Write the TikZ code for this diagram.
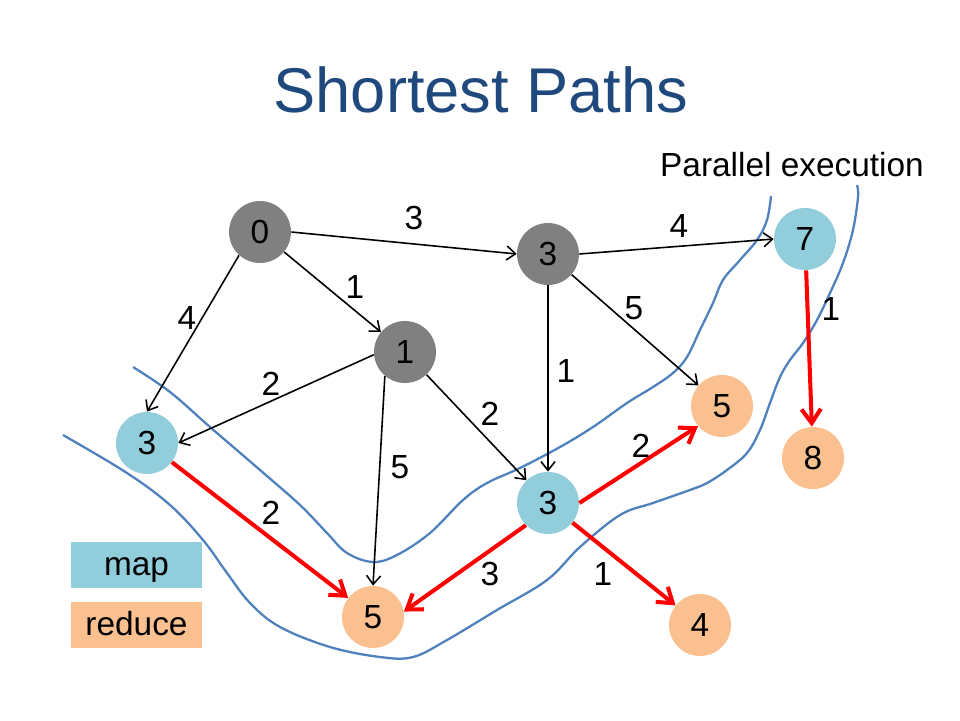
\documentclass[tikz,border=0pt]{standalone}
\usepackage{fontspec}
\setmainfont{Liberation Sans}
\usetikzlibrary{arrows.meta}
\definecolor{titleblue}{RGB}{31,73,125}
\definecolor{nodegray}{RGB}{128,128,128}
\definecolor{mapblue}{RGB}{146,205,220}
\definecolor{reduceorange}{RGB}{250,192,144}
\definecolor{waveblue}{RGB}{79,129,189}

\begin{document}
\begin{tikzpicture}[x=0.02cm, y=-0.02cm,
	vertex/.style={circle, minimum size=1.24cm, inner sep=0pt, font=\fontsize{19}{22}\selectfont},
	done/.style={vertex, fill=nodegray},
	mapv/.style={vertex, fill=mapblue},
	redv/.style={vertex, fill=reduceorange},
	link/.style={-{Straight Barb[length=5pt,width=8pt]}, line width=0.9pt},
	emit/.style={-{Straight Barb[length=8pt,width=11pt]}, line width=2.3pt, red},
	weight/.style={font=\fontsize{19}{22}\selectfont},
	wave/.style={waveblue, line width=1.3pt, line join=round},
	keybox/.style={minimum width=2.62cm, minimum height=0.92cm, inner sep=0pt, text height=0.4cm, text depth=0pt, font=\fontsize{19}{22}\selectfont}]
			%%%%% START %%%%%
			\useasboundingbox (0, 0) rectangle (960, 720);
			
			\node[titleblue, anchor=base, font=\fontsize{36}{40}\selectfont] (title) at (481, 112) {Shortest Paths};
			\node[anchor=base west, font=\fontsize{19}{22}\selectfont] (par) at (654, 176) {Parallel execution};
			
			% parallel borders
			\draw[wave] plot[smooth, tension=0.6] coordinates {(133, 367) (170, 392) (210, 427) (260, 470) (300, 505) (327, 533) (347, 553) (373, 562) (397, 555) (430, 533) (463, 500) (487, 483) (520, 468) (560, 447) (593, 427) (627, 403) (653, 387) (673, 373) (687, 357) (700, 330) (713, 303) (723, 280) (740, 260) (757, 240) (767, 220) (771, 196)};
			\draw[wave] plot[smooth, tension=0.6] coordinates {(63, 435) (127, 473) (170, 505) (203, 540) (227, 573) (250, 603) (280, 627) (330, 647) (380, 657) (413, 657) (447, 640) (497, 610) (547, 580) (580, 547) (620, 515) (653, 503) (690, 490) (707, 483) (727, 470) (747, 453) (760, 430) (770, 403) (780, 377) (790, 360) (803, 343) (817, 320) (830, 293) (843, 263) (853, 230) (858, 197) (857, 185)};
			
			% vertices
			\node[done] (s) at (260, 232) {0};
			\node[done] (a) at (405, 352) {1};
			\node[done] (b) at (548, 254) {3};
			\node[mapv] (c) at (147, 443) {3};
			\node[mapv] (d) at (548, 503) {3};
			\node[mapv] (e) at (805, 239) {7};
			\node[redv] (f) at (373, 617) {5};
			\node[redv] (g) at (722, 406) {5};
			\node[redv] (h) at (813, 458) {8};
			\node[redv] (k) at (700, 625) {4};
			
			% edges
			\draw[link] (s.east) -- (b.west);
			\draw[link] (s) -- (a);
			\draw[link] (s.228) -- (c.north);
			\draw[link] (a.185) -- (c.east);
			\draw[link] (a.230) -- (f.north);
			\draw[link] (a) -- (d);
			\draw[link] (b) -- (d);
			\draw[link] (b) -- (g);
			\draw[link] (b.east) -- (e.west);
			
			\draw[emit] (c) -- (f);
			\draw[emit] (d.east) -- (g.220);
			\draw[emit] (d.225) -- (f.10);
			\draw[emit] (d) -- (k);
			\draw[emit] (e) -- (h);
			
			% weights
			\node[weight] (w1) at (414, 218) {3};
			\node[weight] (w2) at (355, 287) {1};
			\node[weight] (w3) at (187, 318) {4};
			\node[weight] (w4) at (271, 384) {2};
			\node[weight] (w5) at (400, 467) {5};
			\node[weight] (w6) at (490, 414) {2};
			\node[weight] (w7) at (566, 371) {1};
			\node[weight] (w8) at (634, 308) {5};
			\node[weight] (w9) at (679, 226) {4};
			\node[weight] (w10) at (831, 309) {1};
			\node[weight] (w11) at (271, 513) {2};
			\node[weight] (w12) at (641, 446) {2};
			\node[weight] (w13) at (490, 574) {3};
			\node[weight] (w14) at (603, 574) {1};
			
			% legend
			\node[keybox, fill=mapblue] (mapkey) at (136.5, 565) {map};
			\node[keybox, fill=reduceorange] (redkey) at (136.5, 625) {reduce};
			%%%%% END %%%%%
\end{tikzpicture}
\end{document}
